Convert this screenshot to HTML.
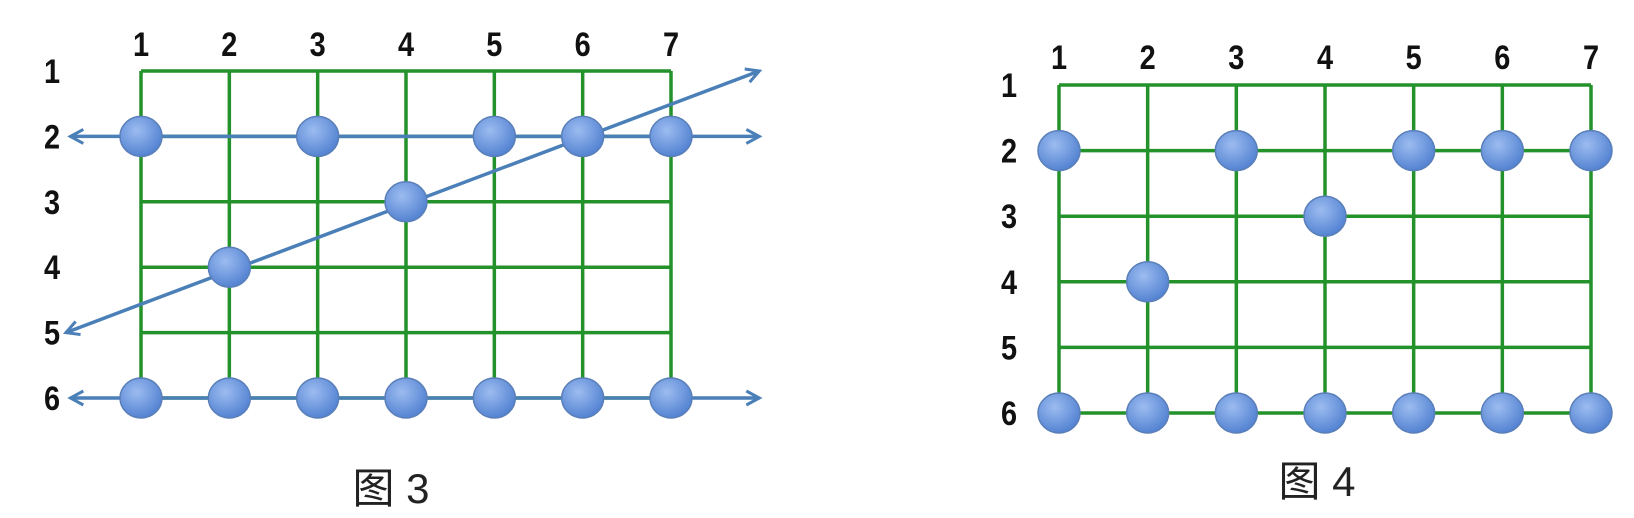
<!DOCTYPE html>
<html><head><meta charset="utf-8"><style>
html,body{margin:0;padding:0;background:#fff;width:1634px;height:518px;overflow:hidden}
text{font-family:"Liberation Sans","Noto Sans CJK SC",sans-serif}
</style></head><body>
<svg id="svg" width="1634" height="518" viewBox="0 0 1634 518" xmlns="http://www.w3.org/2000/svg">
<defs>
<radialGradient id="dot" cx="40%" cy="35%" r="70%">
<stop offset="0%" stop-color="#9cbcf0"/><stop offset="100%" stop-color="#4f7fd0"/>
</radialGradient>
<marker id="ah" viewBox="0 0 18 18" refX="15" refY="9" markerWidth="18" markerHeight="18" markerUnits="userSpaceOnUse" orient="auto-start-reverse">
<path d="M2,2 L15,9 L2,16" fill="none" stroke="#4a7fb8" stroke-width="3"/>
</marker>
</defs>
</svg>
<script>
const colLabels=["1","2","3","4","5","6","7"];
const rowLabels=["1","2","3","4","5","6"];
// dots as [col,row] (1-based)
const dots3=[[1,2],[3,2],[5,2],[6,2],[7,2],[4,3],[2,4],[1,6],[2,6],[3,6],[4,6],[5,6],[6,6],[7,6]];
const dots4=[[1,2],[3,2],[5,2],[6,2],[7,2],[4,3],[2,4],[1,6],[2,6],[3,6],[4,6],[5,6],[6,6],[7,6]];
// arrow lines in grid units [col1,row1,col2,row2]
const arrows3=[[0.2,2,8.0,2],[0.2,6,8.0,6],[0.15,5,8.0,1]];
const NS="http://www.w3.org/2000/svg";
const svg=document.getElementById('svg');
function mk(t,a,p){const e=document.createElementNS(NS,t);for(const k in a)e.setAttribute(k,a[k]);(p||svg).appendChild(e);return e;}
function lbl(g,x,y,t){
  const e=mk('text',{x:0,y:0,transform:`translate(${x},${y}) scale(0.85,1)`,'text-anchor':'middle','font-size':34,'font-weight':'bold',fill:'#111'},g);
  e.textContent=t;return e;
}
function fig(id,x0,x1,y0,y1,colLabY,rowLabX,dots,arrows,capX,capY,cap){
  const g=mk('g',{});
  
  
  const nc=colLabels.length,nr=rowLabels.length;
  const sx=c=>x0+(c-1)*(x1-x0)/(nc-1);
  const sy=r=>y0+(r-1)*(y1-y0)/(nr-1);
  for(let i=1;i<=nc;i++){const l=mk('line',{x1:sx(i),x2:sx(i),y1:sy(1),y2:sy(nr),stroke:'#23922a','stroke-width':3.5},g);
    }
  for(let j=1;j<=nr;j++){const l=mk('line',{x1:sx(1),x2:sx(nc),y1:sy(j),y2:sy(j),stroke:'#23922a','stroke-width':3.5},g);
    }
  colLabels.forEach((t,i)=>{const e=lbl(g,sx(i+1),colLabY,t);
    });
  rowLabels.forEach((t,i)=>{const e=lbl(g,rowLabX,sy(i+1)+12,t);
    });
  arrows.forEach(a=>{const l=mk('line',{x1:sx(a[0]),y1:sy(a[1]),x2:sx(a[2]),y2:sy(a[3]),stroke:'#4a7fb8','stroke-width':3.5,'marker-start':'url(#ah)','marker-end':'url(#ah)'},g);
    });
  dots.forEach(d=>{const c=mk('ellipse',{cx:sx(d[0]),cy:sy(d[1]),rx:21,ry:20,fill:'url(#dot)',stroke:'#5a7fb8','stroke-width':1.5},g);
    });
  const e=mk('text',{x:capX,y:capY,'text-anchor':'middle','font-size':42,fill:'#222'},g);e.textContent=cap;
  
}
fig('figure-3',141,671,71,398,56,52,dots3,arrows3,391,503,'图 3');
fig('figure-4',1059,1591,85,413,69,1009,dots4,[],1317,496,'图 4');
</script>
</body></html>
